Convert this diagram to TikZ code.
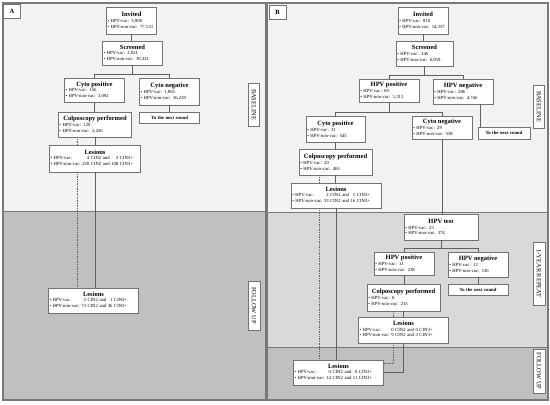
\documentclass[tikz,border=0pt]{standalone}
\usepackage{fontspec}
\setmainfont{Liberation Serif}
\usepackage{xcolor}
\usepackage{tikz}
\usetikzlibrary{shapes.geometric, arrows, arrows.meta, positioning, calc}
\definecolor{paneledge}{RGB}{120,120,120}
\definecolor{boxedge}{RGB}{115,115,115}
\definecolor{wirecol}{RGB}{95,95,95}
\definecolor{bandlight}{RGB}{242,242,242}
\definecolor{bandmid}{RGB}{217,217,217}
\definecolor{banddark}{RGB}{192,192,192}
\tikzstyle{stage} = [rectangle,
draw=boxedge, fill=white,
line width=0.7pt,
inner xsep=1.2pt, inner ysep=0.5pt,
align=left,
font=\fontsize{4.7}{5.8}\selectfont]
\tikzstyle{nextround} = [stage, align=center,
minimum height=11pt,
font=\fontsize{4.7}{5.8}\selectfont\bfseries]
\tikzstyle{phase} = [rectangle, rotate=-90,
draw=boxedge, fill=white,
line width=0.7pt,
minimum height=11pt, inner sep=0pt,
font=\fontsize{6.4}{7}\selectfont]
\tikzstyle{tag} = [rectangle,
draw=boxedge, fill=white,
line width=0.7pt,
minimum width=17pt, minimum height=14pt,
font=\fontsize{6.5}{7}\selectfont\bfseries]
\tikzstyle{link} = [draw=wirecol, line width=0.7pt]
\tikzstyle{trace} = [link, densely dotted]
\newcommand{\stagehead}[1]{{\centering\fontsize{6.5}{7.5}\selectfont\bfseries #1\par}}

\begin{document}
\begin{tikzpicture}[x=1pt, y=-1pt]
            \useasboundingbox (0,0) rectangle (550,405);
            % panel A
            \fill [bandlight] (3,3) rectangle (266,211);
            \fill [banddark] (3,211) rectangle (266,400);
            \draw [paneledge, line width=1pt] (3,211) -- (266,211);
            \draw [paneledge, line width=1.3pt] (3,3) rectangle (266,400);
            % panel B
            \fill [bandlight] (267.5,3) rectangle (548,212);
            \fill [bandmid] (267.5,212) rectangle (548,347);
            \fill [banddark] (267.5,347) rectangle (548,400);
            \draw [paneledge, line width=1pt] (267.5,212) -- (548,212) (267.5,347) -- (548,347);
            \draw [paneledge, line width=1.3pt] (267.5,3) rectangle (548,400);

            \node (tagA) [tag] at (12,11.5) {A};
            \node (inv1) [stage, text width=48pt, minimum height=27pt] at (131.5,20.5) {\stagehead{Invited}\textbullet\ HPV-vac: 3,908\\\textbullet\ HPV-non-vac: 77,133};
            \node (scr1) [stage, text width=58pt, minimum height=24pt] at (132.5,53) {\stagehead{Screened}\textbullet\ HPV-vac: 2,021\\\textbullet\ HPV-non-vac: 39,321};
            \node (cyp1) [stage, text width=58pt, minimum height=24pt] at (94.5,90) {\stagehead{Cyto positive}\textbullet\ HPV-vac: 156\\\textbullet\ HPV-non-vac: 3,092};
            \node (cyn1) [stage, text width=58pt, minimum height=27pt] at (169.5,91.5) {\stagehead{Cyto negative}\textbullet\ HPV-vac: 1,865\\\textbullet\ HPV-non-vac: 36,229};
            \node (nxt1) [nextround, text width=58pt] at (169.5,117.5) {To the next round};
            \node (col1) [stage, text width=71pt, minimum height=25pt] at (95,124.5) {\stagehead{Colposcopy performed}\textbullet\ HPV-vac: 120\\\textbullet\ HPV-non-vac: 2,436};
            \node (les1) [stage, text width=89pt, minimum height=27pt] at (95,158.5) {\stagehead{Lesions}\begin{tabular}{@{}l@{\ }r@{\ }l@{\ }r@{\ }l@{}}\textbullet\ HPV-vac: & 4 & CIN2 and & 3 & CIN3+\\\textbullet\ HPV-non-vac: & 220 & CIN2 and & 108 & CIN3+\end{tabular}};
            \node (les2) [stage, text width=88pt, minimum height=25pt] at (93.5,300.5) {\stagehead{Lesions}\begin{tabular}{@{}l@{\ }r@{\ }l@{\ }r@{\ }l@{}}\textbullet\ HPV-vac: & 3 & CIN2 and & 1 & CIN3+\\\textbullet\ HPV-non-vac: & 73 & CIN2 and & 36 & CIN3+\end{tabular}};
            \node (base1) [phase, minimum width=43pt] at (254,104.5) {BASELINE};
            \node (fup1) [phase, minimum width=49pt, minimum height=12pt] at (254,305.5) {FOLLOW UP};

            \draw [link] (inv1.south) -- (inv1.south |- scr1.north);
            \draw [link] (scr1.south) -- ++(0,9) coordinate (fk1);
            \draw [link] (cyp1.north) |- (fk1) -| (cyn1.north);
            \draw [link] (cyp1.south) -- (cyp1.south |- col1.north);
            \draw [link] (cyn1) -- (nxt1);
            \draw [link] (col1.south) -- (col1.south |- les1.north);
            \draw [link] (les1.south) -- (les1.south |- les2.north);
            \draw [trace] ([xshift=-18pt]col1.south) -- ([xshift=-18pt]col1.south |- les1.north);
            \draw [trace] ([xshift=-18pt]les1.south) -- ([xshift=-18pt]les1.south |- les2.north);

            \node (tagB) [tag] at (277.5,12) {B};
            \node (inv2) [stage, text width=47.5pt, minimum height=27pt] at (423,20.5) {\stagehead{Invited}\textbullet\ HPV-vac: 810\\\textbullet\ HPV-non-vac: 14,357};
            \node (scr2) [stage, text width=54.5pt, minimum height=25pt] at (424.5,53.5) {\stagehead{Screened}\textbullet\ HPV-vac: 346\\\textbullet\ HPV-non-vac: 6,059};
            \node (hpp2) [stage, text width=57.5pt, minimum height=23pt] at (389,90.5) {\stagehead{HPV positive}\textbullet\ HPV-vac: 60\\\textbullet\ HPV-non-vac: 1,313};
            \node (hpn2) [stage, text width=57.5pt, minimum height=25pt] at (463,91.5) {\stagehead{HPV negative}\textbullet\ HPV-vac: 286\\\textbullet\ HPV-non-vac: 4,746};
            \node (cyp2) [stage, text width=56.5pt, minimum height=26pt] at (335.5,129) {\stagehead{Cyto positive}\textbullet\ HPV-vac: 31\\\textbullet\ HPV-non-vac: 545};
            \node (cyn2) [stage, text width=57.5pt, minimum height=23pt] at (442,127.5) {\stagehead{Cyto negative}\textbullet\ HPV-vac: 29\\\textbullet\ HPV-non-vac: 538};
            \node (nxt2) [nextround, text width=49.5pt, minimum height=12pt] at (504,133) {To the next round};
            \node (col2) [stage, text width=70.5pt, minimum height=26pt] at (335.5,162) {\stagehead{Colposcopy performed}\textbullet\ HPV-vac: 20\\\textbullet\ HPV-non-vac: 465};
            \node (les3) [stage, text width=87.5pt, minimum height=25pt] at (336,195.5) {\stagehead{Lesions}\begin{tabular}{@{}l@{\ }r@{\ }l@{\ }r@{\ }l@{}}\textbullet\ HPV-vac: & 2 & CIN2 and & 1 & CIN3+\\\textbullet\ HPV-non-vac: & 33 & CIN2 and & 16 & CIN3+\end{tabular}};
            \node (tst2) [stage, text width=71.5pt, minimum height=26pt] at (441,227) {\stagehead{HPV test}\textbullet\ HPV-vac: 23\\\textbullet\ HPV-non-vac: 374};
            \node (hpp3) [stage, text width=57.5pt, minimum height=23pt] at (404,263.5) {\stagehead{HPV positive}\textbullet\ HPV-vac: 11\\\textbullet\ HPV-non-vac: 238};
            \node (hpn3) [stage, text width=57.5pt, minimum height=25pt] at (478,264.5) {\stagehead{HPV negative}\textbullet\ HPV-vac: 12\\\textbullet\ HPV-non-vac: 136};
            \node (nxt3) [nextround, text width=57.5pt] at (478,289.5) {To the next round};
            \node (col3) [stage, text width=70.5pt, minimum height=27pt] at (403.5,297.5) {\stagehead{Colposcopy performed}\textbullet\ HPV-vac: 8\\\textbullet\ HPV-non-vac: 215};
            \node (les4) [stage, text width=88pt, minimum height=26pt] at (403.5,330) {\stagehead{Lesions}\begin{tabular}{@{}l@{\ }r@{\ }l@{\ }r@{\ }l@{}}\textbullet\ HPV-vac: & 0 & CIN2 and & 0 & CIN3+\\\textbullet\ HPV-non-vac: & 9 & CIN2 and & 3 & CIN3+\end{tabular}};
            \node (les5) [stage, text width=88pt, minimum height=25pt] at (338.5,372.5) {\stagehead{Lesions}\begin{tabular}{@{}l@{\ }r@{\ }l@{\ }r@{\ }l@{}}\textbullet\ HPV-vac: & 0 & CIN2 and & 0 & CIN3+\\\textbullet\ HPV-non-vac: & 14 & CIN2 and & 11 & CIN3+\end{tabular}};
            \node (base2) [phase, minimum width=43pt] at (539,106.5) {BASELINE};
            \node (yr2) [phase, minimum width=63pt, minimum height=12pt] at (539,273.5) {1-YEAR REPEAT};
            \node (fup2) [phase, minimum width=44pt, minimum height=12pt] at (539,371) {FOLLOW UP};

            \draw [link] (inv2.south) -- (inv2.south |- scr2.north);
            \draw [link] (scr2.south) -- ++(0,8.5) coordinate (fk2);
            \draw [link] (hpp2.north) |- (fk2) -| (hpn2.north);
            \draw [link] (hpp2.south) -- ++(0,10) coordinate (fk3);
            \draw [link] (cyp2.north) |- (fk3) -| (cyn2.north);
            \draw [link] ([xshift=17pt]hpn2.south) -- ([xshift=17pt]hpn2.south |- nxt2.north);
            \draw [link] (cyp2.south) -- (cyp2.south |- col2.north);
            \draw [link] (col2.south) -- (col2.south |- les3.north);
            \draw [link] (les3.south) -- (les3.south |- les5.north);
            \draw [trace] ([xshift=-16.5pt]col2.south) -- ([xshift=-16.5pt]col2.south |- les3.north);
            \draw [trace] ([xshift=-16.5pt]les3.south) -- ([xshift=-16.5pt]les3.south |- les5.north);
            \draw [link] (cyn2.south) -- (cyn2.south |- tst2.north);
            \draw [link] (tst2.south) -- ++(0,8) coordinate (fk4);
            \draw [link] (hpp3.north) |- (fk4) -| (hpn3.north);
            \draw [link] (hpp3.south) -- (hpp3.south |- col3.north);
            \draw [link] (hpn3) -- (nxt3);
            \draw [link] (col3.south) -- (col3.south |- les4.north);
            \draw [trace] ([xshift=-10pt]col3.south) -- ([xshift=-10pt]col3.south |- les4.north);
            \draw [link] (les4.south) |- (les5.east);
            \draw [trace] ([xshift=-10pt]les4.south) |- ([yshift=9.5pt]les5.east);
        \end{tikzpicture}
\end{document}
